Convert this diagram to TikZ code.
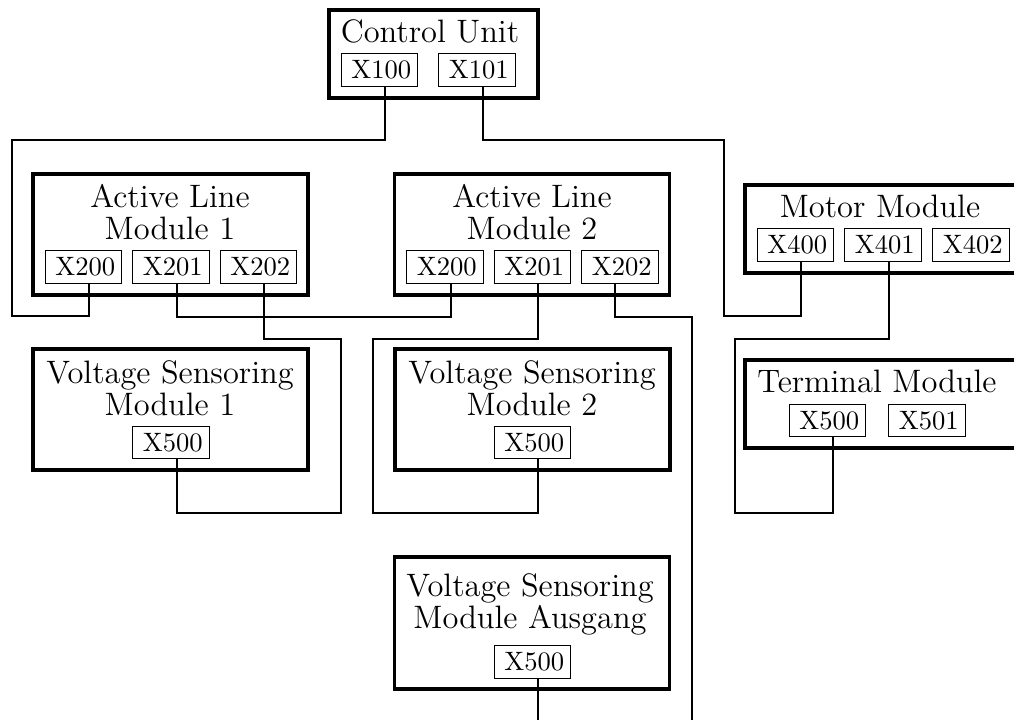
\documentclass[tikz,border=0pt]{standalone}
\begin{document}
\begin{tikzpicture}[x=0.376pt,y=-0.376pt,
  module/.style={draw, line width=1.2pt, inner sep=0pt},
  port/.style={draw, line width=0.4pt, inner sep=0pt, minimum width=28.8pt, minimum height=12.3pt, font=\fontsize{10}{12}\selectfont, execute at begin node={\kern1.4pt}},
  title/.style={inner sep=0pt, align=center, font=\fontsize{12.2}{12.4}\selectfont, anchor=base},
  wire/.style={line width=0.75pt}]
\useasboundingbox (0,0) rectangle (1014,720);
\clip (0,0) rectangle (1014,720);

% modules
\node[module, minimum width=78.6pt, minimum height=33.1pt] (cu) at (433.5,54) {};
\node[module, minimum width=103.4pt, minimum height=45.5pt] (alm1) at (170.5,234.5) {};
\node[module, minimum width=103.4pt, minimum height=45.5pt] (alm2) at (532,234.5) {};
\node[module, minimum width=104.2pt, minimum height=33.1pt] (mm) at (883.5,229) {};
\node[module, minimum width=104.2pt, minimum height=33.1pt] (tm) at (883.5,404) {};
\node[module, minimum width=103.4pt, minimum height=45.5pt] (vsm1) at (170.5,409.5) {};
\node[module, minimum width=103.4pt, minimum height=45.5pt] (vsm2) at (532.5,409.5) {};
\node[module, minimum width=103.2pt, minimum height=49.6pt] (vsma) at (532,623) {};

% titles
\node[title] (cut) at (430,43) {Control Unit};
\node[title] (alm1t) at (170,240) {Active Line\\Module 1};
\node[title] (alm2t) at (532,240) {Active Line\\Module 2};
\node[title] (mmt) at (880,218) {Motor Module};
\node[title] (tmt) at (877,393) {Terminal Module};
\node[title] (vsm1t) at (170,416) {Voltage Sensoring\\Module 1};
\node[title] (vsm2t) at (532,416) {Voltage Sensoring\\Module 2};
\node[title] (vsmat) at (530,629) {Voltage Sensoring\\Module Ausgang};

% ports
\node[port] (cux100) at (379.5,70) {X100};
\node[port] (cux101) at (477,70) {X101};
\node[port] (alm1x200) at (83.5,267) {X200};
\node[port] (alm1x201) at (171,267) {X201};
\node[port] (alm1x202) at (258.5,267) {X202};
\node[port] (alm2x200) at (445,267) {X200};
\node[port] (alm2x201) at (532.5,267) {X201};
\node[port] (alm2x202) at (620,267) {X202};
\node[port] (mmx400) at (795.5,245) {X400};
\node[port] (mmx401) at (883,245) {X401};
\node[port] (mmx402) at (971,245) {X402};
\node[port] (tmx500) at (827.5,420.5) {X500};
\node[port] (tmx501) at (927,420.5) {X501};
\node[port] (vsm1x500) at (171,442.5) {X500};
\node[port] (vsm2x500) at (532.5,442.5) {X500};
\node[port] (vsmax500) at (532.5,662) {X500};

% wires
\draw[wire] ([xshift=2.1pt]cux100.south) -- ++(0,53) -| (12,316) -| ([xshift=2.1pt]alm1x200.south);
\draw[wire] ([xshift=2.1pt]cux101.south) -- ++(0,53) -| (724,316) -| ([xshift=2.1pt]mmx400.south);
\draw[wire] ([xshift=2.1pt]alm1x201.south) -- ++(0,33) -| ([xshift=2.1pt]alm2x200.south);
\draw[wire] ([xshift=2.1pt]alm1x202.south) -- ++(0,55) -| (341,513) -| ([xshift=2.1pt]vsm1x500.south);
\draw[wire] ([xshift=2.1pt]alm2x201.south) -- ++(0,55) -| (373,513) -| ([xshift=2.1pt]vsm2x500.south);
\draw[wire] ([xshift=-1.9pt]alm2x202.south) -- ++(0,33) -| (692,750) -| ([xshift=2.1pt]vsmax500.south);
\draw[wire] ([xshift=2.1pt]mmx401.south) -- ++(0,77) -| (735,513) -| ([xshift=2.1pt]tmx500.south);
\end{tikzpicture}
\end{document}
